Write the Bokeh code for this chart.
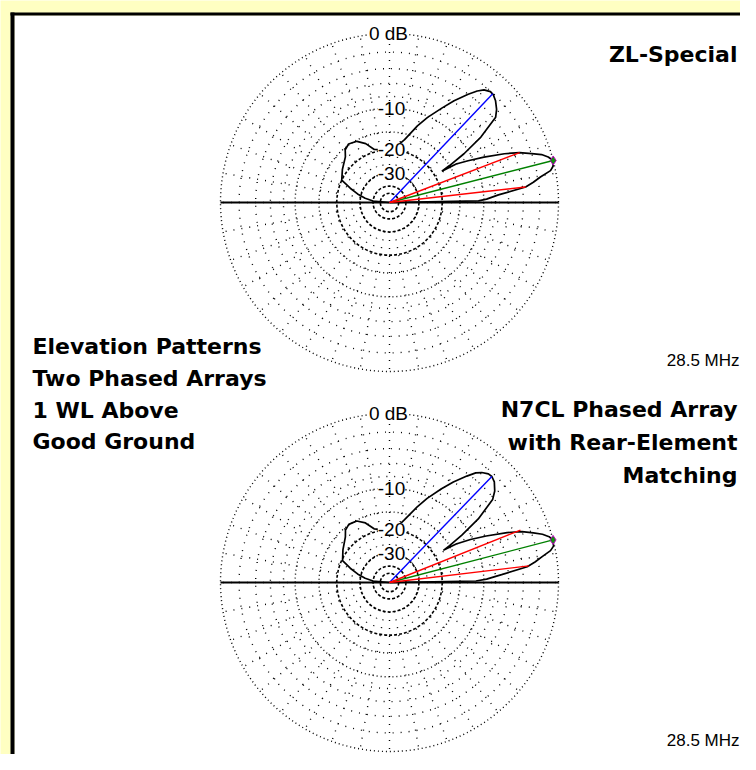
import numpy as np
from bokeh.plotting import figure
from bokeh.models import Range1d
from bokeh.embed import file_html
from bokeh.resources import INLINE
from bokeh.core.properties import value

# ---------------- data ----------------
ring_db_fine = [-2, -4, -6, -8]
ring_db_main = [0, -10, -15]
ring_db_dark = [-20, -30, -40, -50]
ring_label_text = ["0 dB", "-10", "-20", "-30"]
ring_label_db = [0, -10, -20, -30]
spoke_deg = list(range(0, 360, 10))

pattern_angle = [0, 1, 2, 4, 6.5, 8, 9.6, 11.2, 12.5, 14.4, 16, 17.5, 19, 21, 23, 25.7, 28,
                 30, 30.8, 31.6, 33.2, 35.6, 38.8, 41, 43.8, 46, 47.7, 50, 51.8, 54, 57.6, 61,
                 65.9, 70, 76.5, 82, 90, 98, 106, 112, 118, 125, 130, 134, 145, 155, 160, 165, 170, 175, 180]
zl_db = [-99, -11, -9.5, -7.5, -3.6, -2.6, -1.7, -0.5, -0.15, 0, -0.4, -1.0, -2.0, -3.3, -5.2, -8.2, -11,
         -13.5, -17.5, -15, -11, -7, -3.7, -3.0, -2.4, -2.1, -2.05, -2.4, -3.0, -4.0, -5.8, -7.7,
         -10.2, -12.5, -16.5, -18.5, -19.3, -19.8, -19.2, -16.8, -15.3, -14.8, -15.4, -16.8, -18.5, -20, -24, -28, -33, -40, -99]
n7_db = [-99, -11.5, -9.5, -7, -3.4, -2.4, -1.5, -0.5, -0.1, 0, -0.3, -0.9, -1.8, -3.0, -4.8, -7.8, -10.5,
         -13.5, -17, -15, -11.5, -7.5, -4.2, -3.3, -2.6, -2.35, -2.4, -2.8, -3.3, -4.3, -6.0, -7.8,
         -10.4, -12.8, -16.5, -18.8, -19.5, -19.8, -19, -16.6, -15.2, -14.9, -15.5, -16.8, -18.7, -20.3, -24, -28, -33, -40, -99]

line_colors = ["#0000FF", "#008000", "#FF0000", "#FF0000"]
zl_line_angle = [46.5, 14.4, 21.0, 6.5]
zl_line_db = [-2.05, 0.0, -3.3, -3.6]
n7_line_angle = [46.0, 14.6, 21.8, 6.8]
n7_line_db = [-2.35, 0.0, -3.1, -3.2]

plot_titles = [["ZL-Special"], ["N7CL Phased Array", "with Rear-Element", "Matching"]]
freq_text = "28.5 MHz"
side_text = ["Elevation Patterns", "Two Phased Arrays", "1 WL Above", "Good Ground"]

# ---------------- layout ----------------
R = 169.0
centers = [(389.0, 202.0), (389.0, 582.0)]
YELLOW = "#FFFFC2"


def arrl_r(db):
    return R * 0.89 ** (-np.asarray(db, dtype=float) / 2.0)


p = figure(width=740, height=754, x_range=Range1d(0, 740), y_range=Range1d(754, 0),
           x_axis_type=None, y_axis_type=None, toolbar_location=None,
           output_backend="svg", min_border=0)
p.grid.visible = False
p.outline_line_color = None
p.background_fill_color = YELLOW
p.border_fill_color = YELLOW

# panel
p.quad(left=[14], right=[760], top=[15], bottom=[770], fill_color="white", line_color=None)
p.quad(left=[10], right=[14], top=[12], bottom=[770], fill_color="black", line_color=None)
p.quad(left=[10], right=[760], top=[12], bottom=[15], fill_color="black", line_color=None)

for k, (cx, cy) in enumerate(centers):
    # spokes
    r0 = float(arrl_r(-30))
    xs, ys = [], []
    for a in spoke_deg:
        t = np.radians(a)
        xs.append([cx + r0 * np.cos(t), cx + R * np.cos(t)])
        ys.append([cy - r0 * np.sin(t), cy - R * np.sin(t)])
    p.multi_line(xs, ys, line_color="black", line_width=1.4, line_dash="1 7")

    # rings
    rf = arrl_r(ring_db_fine)
    p.circle(x=[cx] * len(rf), y=[cy] * len(rf), radius=list(rf), fill_color=None,
             line_color="black", line_width=1.4, line_dash="1 7")
    rm = arrl_r(ring_db_main)
    p.circle(x=[cx] * len(rm), y=[cy] * len(rm), radius=list(rm), fill_color=None,
             line_color="black", line_width=1.4, line_dash="1 3")
    rd = arrl_r(ring_db_dark)
    p.circle(x=[cx] * len(rd), y=[cy] * len(rd), radius=list(rd), fill_color=None,
             line_color="black", line_width=1.6, line_dash="3 2")

    # ground line
    p.line([cx - R, cx + R], [cy, cy], line_color="black", line_width=2)

    # pattern
    dbs = zl_db if k == 0 else n7_db
    th = np.radians(pattern_angle)
    rr = arrl_r(dbs)
    p.line(cx + rr * np.cos(th), cy - rr * np.sin(th), line_color="black", line_width=1.7)

    # direction lines
    la = zl_line_angle if k == 0 else n7_line_angle
    ld = zl_line_db if k == 0 else n7_line_db
    lr = arrl_r(ld)
    lt = np.radians(la)
    p.multi_line([[cx, cx + r * np.cos(t)] for r, t in zip(lr, lt)],
                 [[cy, cy - r * np.sin(t)] for r, t in zip(lr, lt)],
                 line_color=line_colors, line_width=1.4)
    p.scatter([cx + lr[1] * np.cos(lt[1])], [cy - lr[1] * np.sin(lt[1])], marker="diamond",
              size=9, fill_color="#109010", line_color="#C000C0", line_width=1)

    # ring labels
    lab_r = arrl_r(ring_label_db)
    p.text(x=[cx - 1] + [cx + 2] * 3, y=list(cy - lab_r), text=ring_label_text,
           text_font=value("Liberation Sans"), text_font_size="19px", text_color="black",
           text_align="center", text_baseline="middle", background_fill_color="white")

    # frequency
    p.text(x=[739], y=[cy + 158], text=[freq_text], text_font=value("Liberation Sans"),
           text_font_size="17px", text_color="black", text_align="right", text_baseline="middle")

# titles
p.text(x=[737], y=[54], text=plot_titles[0], text_font=value("DejaVu Sans"),
       text_font_style="bold", text_font_size="22px", text_align="right", text_baseline="middle")
p.text(x=[737] * 3, y=[409, 442, 475], text=plot_titles[1], text_font=value("DejaVu Sans"),
       text_font_style="bold", text_font_size="22px", text_align="right", text_baseline="middle")
p.text(x=[32] * 4, y=[346, 378, 410, 441], text=side_text, text_font=value("DejaVu Sans"),
       text_font_style="bold", text_font_size="22px", text_align="left", text_baseline="middle")

open("out.html", "w").write(file_html(p, INLINE))
